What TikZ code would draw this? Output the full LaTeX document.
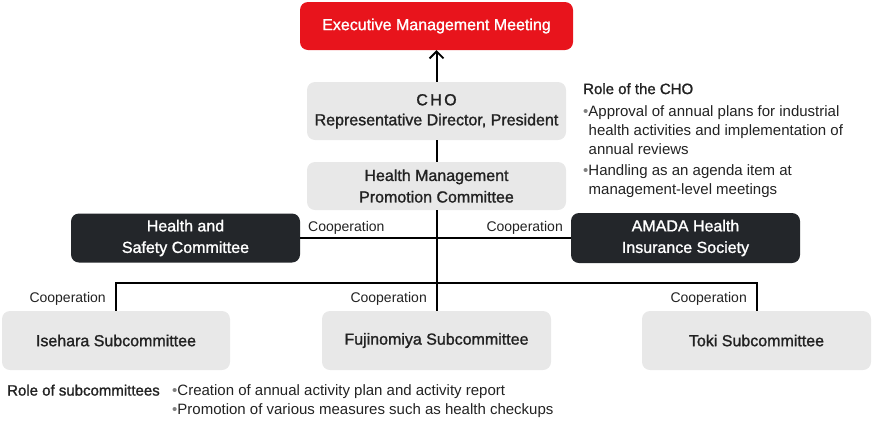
\documentclass[tikz,border=0pt]{standalone}
\usepackage{fontspec}
\setmainfont{Liberation Sans}
\newfontfamily\medfont[FakeBold=1.3]{Liberation Sans}
\usetikzlibrary{arrows.meta}
\definecolor{ared}{HTML}{E8141C}
\definecolor{agray}{HTML}{E8E8E8}
\definecolor{adark}{HTML}{23262A}
\definecolor{atext}{HTML}{222222}
\tikzset{
  box/.style={rounded corners=8pt, inner sep=0pt, align=center, font=\medfont\fontsize{16}{21.5}\selectfont},
  graybox/.style={box, fill=agray, text=atext},
  darkbox/.style={box, fill=adark, text=white},
  redbox/.style={box, fill=ared, text=white},
  conn/.style={line width=2pt, draw=black},
  coop/.style={font=\fontsize{14}{16}\selectfont, text=atext, inner sep=0pt},
  roletext/.style={font=\fontsize{15}{19}\selectfont, text=atext, inner sep=0pt, align=left, anchor=north west}
}
\begin{document}
\begin{tikzpicture}[x=1pt,y=-1pt]
\useasboundingbox (0,0) rectangle (872,421);
% boxes
\node[redbox, minimum width=273pt, minimum height=48pt] (exec) at (436.5,26) {\raisebox{-1.5pt}{Executive Management Meeting}};
\node[graybox, minimum width=259pt, minimum height=58pt] (cho) at (436.5,111) {\raisebox{-2pt}{\begin{tabular}{@{}c@{}}{\addfontfeature{LetterSpace=15}CHO}\\[-1.5pt]Representative Director, President\end{tabular}}};
\node[graybox, minimum width=259pt, minimum height=48pt] (hmpc) at (436.5,186) {Health Management\\Promotion Committee};
\node[darkbox, minimum width=229pt, minimum height=49pt] (hsc) at (185.5,238) {Health and\\Safety Committee};
\node[darkbox, minimum width=229pt, minimum height=50pt] (amada) at (685.5,238) {AMADA Health\\Insurance Society};
\node[graybox, minimum width=228pt, minimum height=59pt] (ise) at (116,340.5) {Isehara Subcommittee};
\node[graybox, minimum width=229pt, minimum height=59pt] (fuji) at (436.5,340.5) {Fujinomiya Subcommittee};
\node[graybox, minimum width=229pt, minimum height=59pt] (toki) at (756.5,340.5) {Toki Subcommittee};
% connectors
\draw[conn, -{Straight Barb[length=7pt,width=14pt,line width=1.8pt]}] (cho.north) -- (exec.south);
\draw[conn] (cho.south) -- (hmpc.north);
\coordinate (jb) at (436.5,283);
\draw[conn] (hmpc.south) -- (fuji.north);
\draw[conn] (hsc.east) -- (amada.west);
\draw[conn] (ise.north) |- (jb) -| (toki.north);
% cooperation labels
\node[coop, anchor=west] (c1) at (308,228) {Cooperation};
\node[coop, anchor=east] (c2) at (563,228) {Cooperation};
\node[coop, anchor=east] (c3) at (106,299) {Cooperation};
\node[coop, anchor=east] (c4) at (427,299) {Cooperation};
\node[coop, anchor=east] (c5) at (747,299) {Cooperation};
% role of CHO
\node[roletext, font=\medfont\fontsize{15}{19}\selectfont] (rc) at (583,83) {Role of the CHO};
\node[roletext] (rc1) at (583,105.5) {{\color{gray}\textbullet}Approval of annual plans for industrial\\\hspace*{5.5pt}health activities and implementation of\\\hspace*{5.5pt}annual reviews};
\node[roletext] (rc2) at (583,164.5) {{\color{gray}\textbullet}Handling as an agenda item at\\\hspace*{5.5pt}management-level meetings};
% role of subcommittees
\node[roletext, font=\medfont\fontsize{15}{19}\selectfont] (rs) at (7,384.5) {Role of subcommittees};
\node[roletext] (rs1) at (172,384.5) {{\color{gray}\textbullet}Creation of annual activity plan and activity report\\{\color{gray}\textbullet}Promotion of various measures such as health checkups};
\end{tikzpicture}
\end{document}
